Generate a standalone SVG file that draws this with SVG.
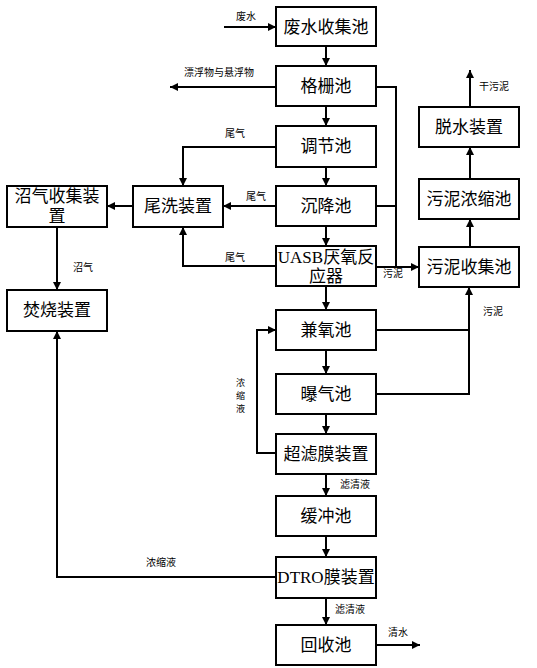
<svg xmlns="http://www.w3.org/2000/svg" width="537" height="668" viewBox="0 0 537 668">
<defs>
<marker id="ah" markerUnits="userSpaceOnUse" markerWidth="10" markerHeight="10" refX="8" refY="4" orient="auto">
<path d="M0,0 L8,4 L0,8 Z" fill="#000"/>
</marker>
<style>
.box{fill:#fff;stroke:#000;stroke-width:2}
.t{font-family:"Liberation Serif","Noto Sans CJK SC",serif;font-size:17px;text-anchor:middle;fill:#000}
.l{font-family:"Noto Sans CJK SC",sans-serif;font-size:10px;fill:#000}
.v{font-family:"Noto Sans CJK SC",sans-serif;font-size:9px;fill:#000}
.c{fill:none;stroke:#000;stroke-width:2}
.a{marker-end:url(#ah)}
</style>
</defs>
<rect width="537" height="668" fill="#fff"/>
<g id="connectors">
<path class="c a" d="M224,27 H276"/>
<path class="c a" d="M326,46 V66"/>
<path class="c a" d="M276,87 H170"/>
<path class="c" d="M376,87 H396 V267"/>
<path class="c" d="M376,206 H396"/>
<path class="c a" d="M376,267 H419"/>
<path class="c a" d="M326,106 V126"/>
<path class="c a" d="M326,167 V186"/>
<path class="c a" d="M326,226 V246"/>
<path class="c a" d="M326,286 V310"/>
<path class="c a" d="M276,147 H183 V186"/>
<path class="c a" d="M276,206 H223"/>
<path class="c a" d="M276,266 H183 V227"/>
<path class="c a" d="M133,206 H107"/>
<path class="c a" d="M57,227 V290"/>
<path class="c a" d="M276,577 H57 V331"/>
<path class="c a" d="M276,453 H257 V330 H276"/>
<path class="c" d="M377,330 H469"/>
<path class="c a" d="M377,394 H469 V287"/>
<path class="c a" d="M326,350 V374"/>
<path class="c a" d="M326,414 V434"/>
<path class="c a" d="M326,474 V496"/>
<path class="c a" d="M326,536 V557"/>
<path class="c a" d="M326,598 V625"/>
<path class="c a" d="M376,645 H420"/>
<path class="c a" d="M470,247 V219"/>
<path class="c a" d="M470,179 V147"/>
<path class="c a" d="M470,107 V70"/>
<text class="l" x="236" y="20">废水</text>
<text class="l" x="184" y="76">漂浮物与悬浮物</text>
<text class="l" x="225" y="137">尾气</text>
<text class="l" x="246" y="200">尾气</text>
<text class="l" x="225" y="261">尾气</text>
<text class="l" x="73" y="271">沼气</text>
<text class="l" x="383" y="277">污泥</text>
<text class="l" x="483" y="315">污泥</text>
<text class="l" x="479" y="90">干污泥</text>
<text class="v" x="236" y="386">浓</text>
<text class="v" x="236" y="399">缩</text>
<text class="v" x="236" y="412">液</text>
<text class="l" x="340" y="488">滤清液</text>
<text class="l" x="146" y="566">浓缩液</text>
<text class="l" x="335" y="613">滤清液</text>
<text class="l" x="388" y="636">清水</text>
</g>
<g id="n1"><rect class="box" x="276" y="7" width="100" height="39"/><text class="t" x="326" y="33">废水收集池</text></g>
<g id="n2"><rect class="box" x="276" y="66" width="100" height="40"/><text class="t" x="326" y="92">格栅池</text></g>
<g id="n3"><rect class="box" x="276" y="126" width="100" height="41"/><text class="t" x="326" y="152">调节池</text></g>
<g id="n4"><rect class="box" x="276" y="186" width="100" height="40"/><text class="t" x="326" y="212">沉降池</text></g>
<g id="n5"><rect class="box" x="276" y="246" width="100" height="40"/><text class="t" x="326" y="263">UASB厌氧反</text><text class="t" x="326" y="282">应器</text></g>
<g id="n6"><rect class="box" x="276" y="310" width="100" height="40"/><text class="t" x="326" y="336">兼氧池</text></g>
<g id="n7"><rect class="box" x="276" y="374" width="100" height="40"/><text class="t" x="326" y="400">曝气池</text></g>
<g id="n8"><rect class="box" x="276" y="434" width="100" height="40"/><text class="t" x="326" y="460">超滤膜装置</text></g>
<g id="n9"><rect class="box" x="276" y="496" width="100" height="40"/><text class="t" x="326" y="522">缓冲池</text></g>
<g id="n10"><rect class="box" x="276" y="557" width="100" height="41"/><text class="t" x="326" y="583">DTRO膜装置</text></g>
<g id="n11"><rect class="box" x="276" y="625" width="100" height="40"/><text class="t" x="326" y="651">回收池</text></g>
<g id="n12"><rect class="box" x="419" y="107" width="100" height="40"/><text class="t" x="469" y="133">脱水装置</text></g>
<g id="n13"><rect class="box" x="419" y="179" width="100" height="40"/><text class="t" x="469" y="205">污泥浓缩池</text></g>
<g id="n14"><rect class="box" x="419" y="247" width="100" height="40"/><text class="t" x="469" y="273">污泥收集池</text></g>
<g id="n15"><rect class="box" x="133" y="186" width="90" height="41"/><text class="t" x="178" y="212">尾洗装置</text></g>
<g id="n16"><rect class="box" x="7" y="186" width="100" height="41"/><text class="t" x="57" y="202">沼气收集装</text><text class="t" x="57" y="222">置</text></g>
<g id="n17"><rect class="box" x="7" y="290" width="100" height="41"/><text class="t" x="57" y="316">焚烧装置</text></g>
</svg>
